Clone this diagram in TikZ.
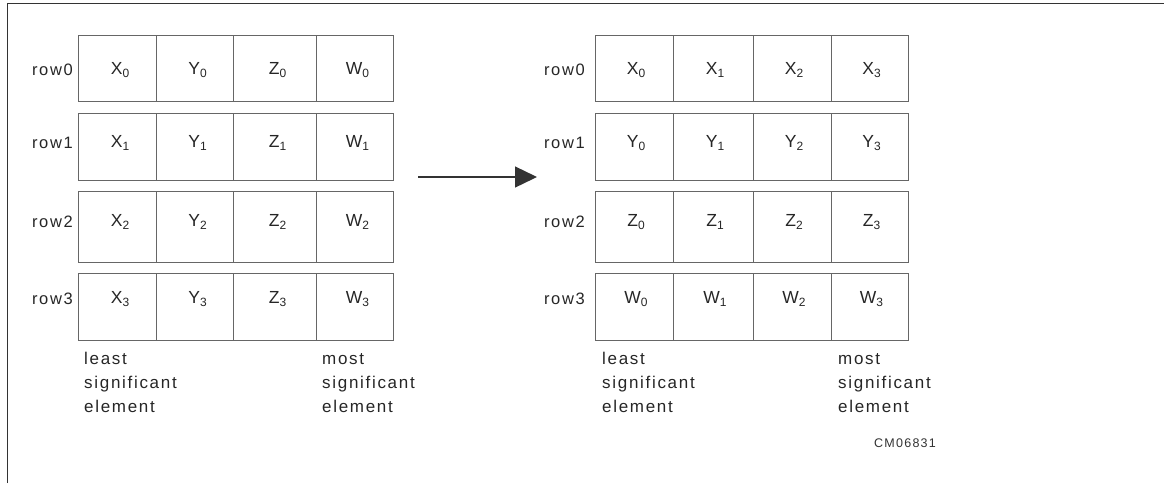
\documentclass[tikz,border=0pt]{standalone}
\usepackage{fontspec}
\setmainfont{Liberation Sans}[LetterSpace=10]
\usetikzlibrary{arrows.meta}
\newcommand\subs[1]{\raisebox{-3.5pt}{\fontsize{12}{12}\selectfont#1}}
\tikzset{
  cellbox/.style={draw=black!60, line width=0.9pt, inner sep=0pt},
  celltext/.style={inner sep=0pt, text=black!85, font=\fontsize{17.5}{17.5}\selectfont},
  rowlbl/.style={inner sep=0pt, text=black!85, font=\fontsize{16.5}{16.5}\selectfont},
  notelbl/.style={inner sep=0pt, text=black!85, align=left, anchor=base west,
    font=\fontsize{17}{24}\selectfont},
  framebox/.style={draw=black!80, line width=1.6pt},
  flow/.style={draw=black!80, line width=1.3pt, -{Triangle[length=22pt,width=21pt]}}
}
\begin{document}
\begin{tikzpicture}[x=1pt,y=-1pt]
\useasboundingbox (0,0) rectangle (1164,483);
% frame (top and left edges)
\coordinate (fa) at (7.5,483);
\coordinate (fb) at (7.5,3.5);
\coordinate (fc) at (1164,3.5);
\draw[framebox] (fa) -- (fb) -- (fc);
% left grid: rows hold X,Y,Z,W of one index
\foreach \r/\top/\bot/\ty in {0/35/101/70, 1/113/180/143, 2/191/262/222, 3/273/340/299} {
  \foreach \c/\xl/\xr/\L in {0/78/156/X, 1/156/233/Y, 2/233/316/Z, 3/316/393/W} {
    \node[cellbox, minimum width={(\xr-\xl)*1pt}, minimum height={(\bot-\top)*1pt}]
      (L\r\c) at ({(\xl+\xr)/2},{(\top+\bot)/2}) {};
    \node[celltext] (Lt\r\c) at ({(\xl+\xr)/2+3},\ty) {\L\subs{\r}};
  }
  \node[rowlbl, anchor=east] (Lrow\r) at (73,\ty) {row\r};
}
% right grid: rows hold one letter, indices 0..3
\foreach \r/\top/\bot/\ty/\L in {0/35/101/70/X, 1/113/180/143/Y, 2/191/262/222/Z, 3/273/340/299/W} {
  \foreach \c/\xl/\xr in {0/595/673, 1/673/753, 2/753/831, 3/831/908} {
    \node[cellbox, minimum width={(\xr-\xl)*1pt}, minimum height={(\bot-\top)*1pt}]
      (R\r\c) at ({(\xl+\xr)/2},{(\top+\bot)/2}) {};
    \node[celltext] (Rt\r\c) at ({(\xl+\xr)/2+2},\ty) {\L\subs{\c}};
  }
  \node[rowlbl, anchor=east] (Rrow\r) at (585,\ty) {row\r};
}
% notes (anchored at the baseline of their last line)
\node[notelbl] (Lleast) at (84,412) {least\\significant\\element};
\node[notelbl] (Lmost) at (322,412) {most\\significant\\element};
\node[notelbl] (Rleast) at (602,412) {least\\significant\\element};
\node[notelbl] (Rmost) at (838,412) {most\\significant\\element};
\node[inner sep=0pt, text=black!80, font=\fontsize{12.5}{12.5}\selectfont] (cm) at (905,443) {CM06831};
% arrow
\coordinate (as) at (418,177);
\coordinate (ae) at (537,177);
\draw[flow] (as) -- (ae);
\end{tikzpicture}
\end{document}
